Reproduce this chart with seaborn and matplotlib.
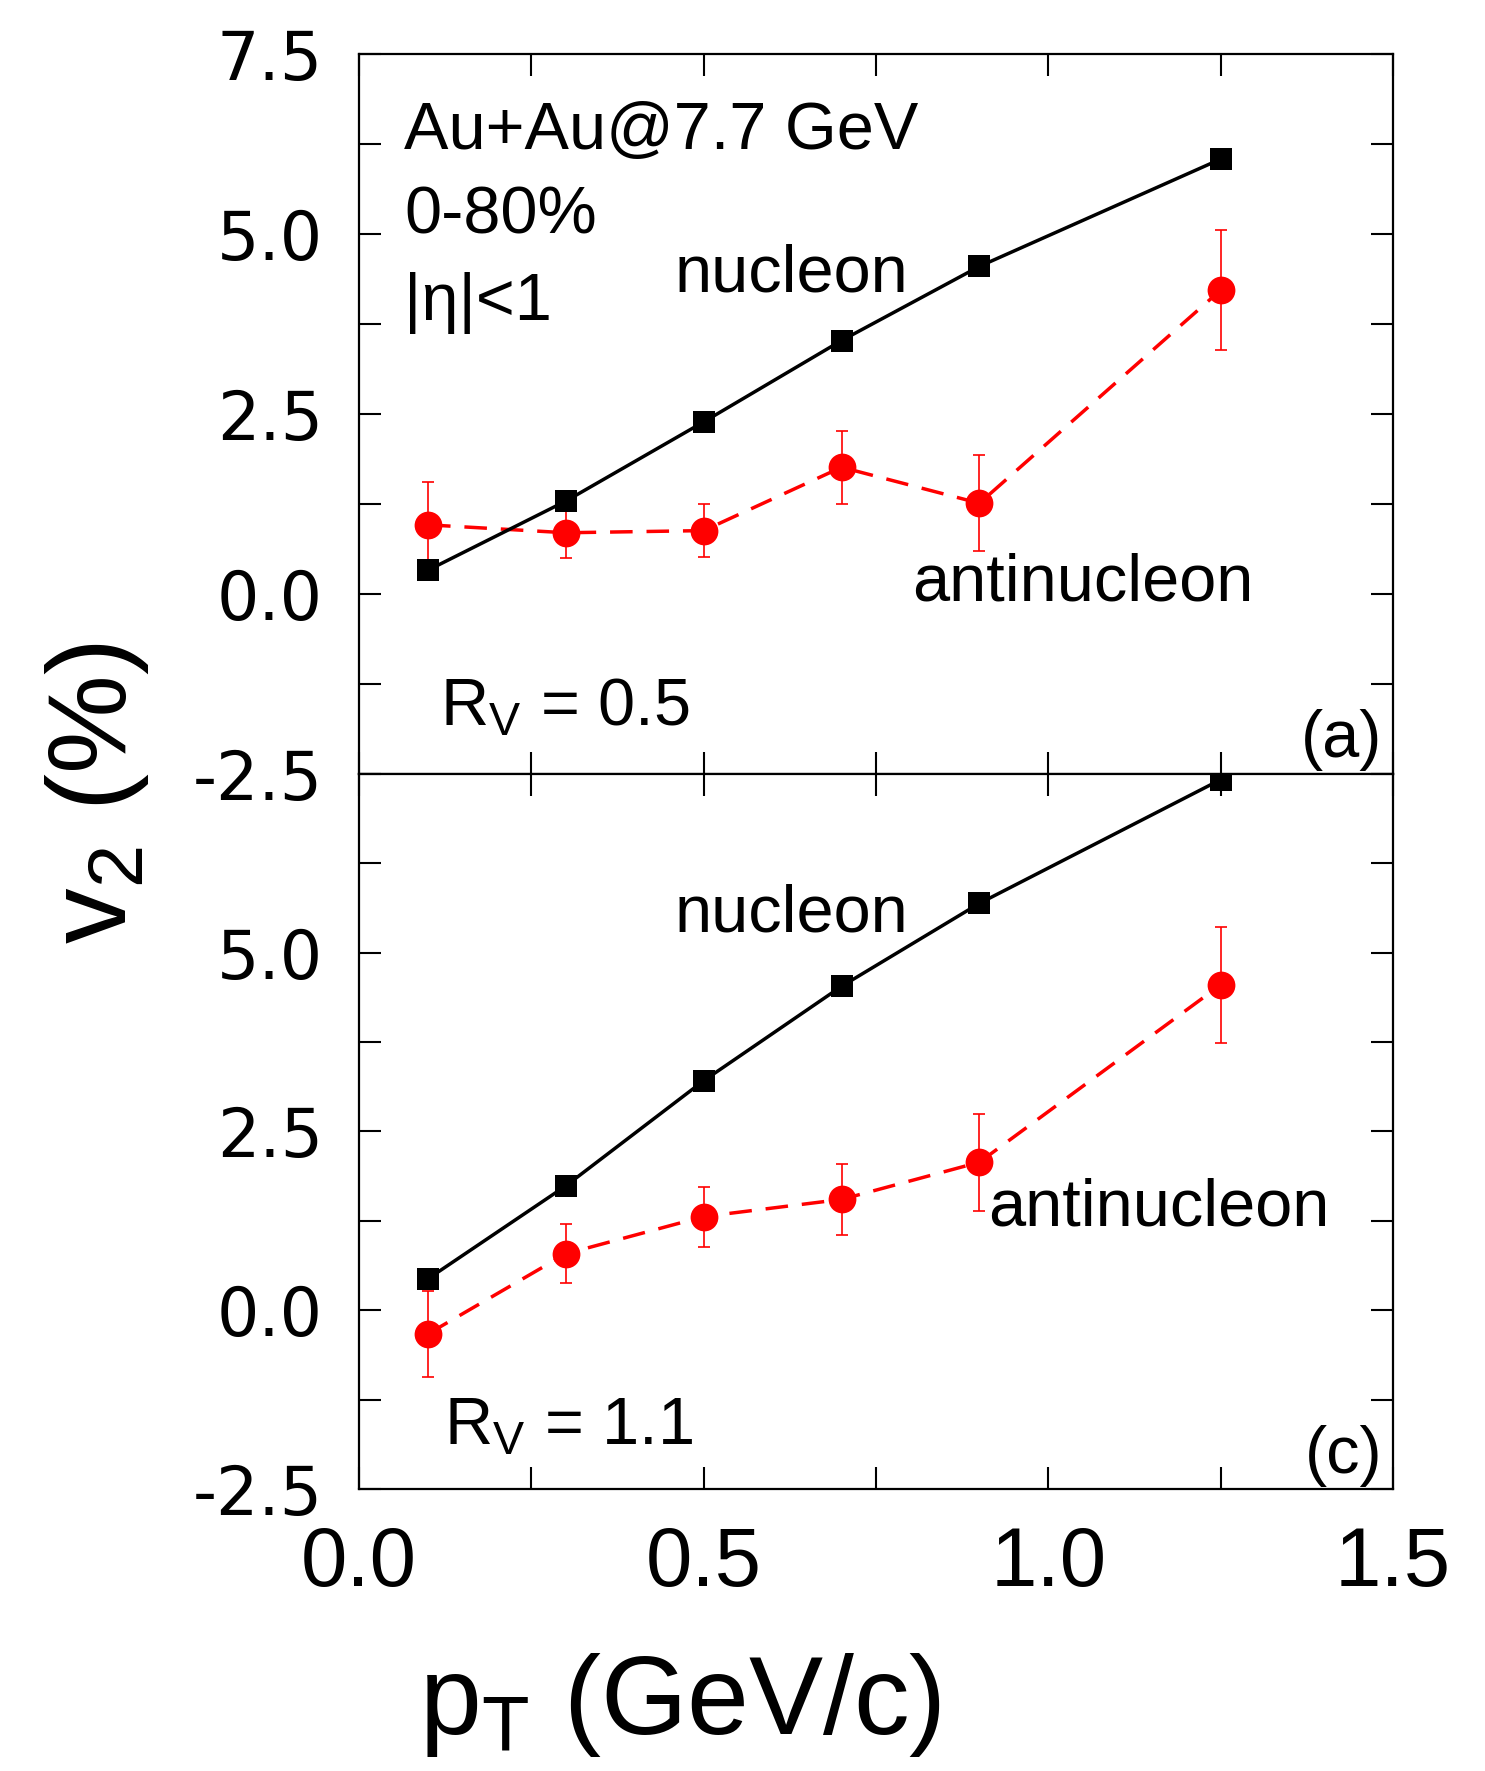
import matplotlib
matplotlib.use("Agg")
import matplotlib.pyplot as plt
from matplotlib.ticker import MultipleLocator
import pandas as pd
import seaborn as sns

# transverse momentum bins (GeV/c)
pt = [0.1, 0.3, 0.5, 0.7, 0.9, 1.25]

# panel (a): R_V = 0.5, v2 in percent
nuc_a = [0.33, 1.29, 2.39, 3.52, 4.55, 6.04]
anti_a = [0.96, 0.85, 0.88, 1.76, 1.26, 4.22]
anti_a_err = [0.60, 0.35, 0.37, 0.51, 0.67, 0.83]

# panel (c): R_V = 1.1, v2 in percent
nuc_c = [0.44, 1.74, 3.21, 4.53, 5.69, 7.42]
anti_c = [-0.33, 0.79, 1.31, 1.55, 2.07, 4.55]
anti_c_err = [0.60, 0.41, 0.42, 0.50, 0.68, 0.81]

y_ticks_a = [-2.5, 0.0, 2.5, 5.0, 7.5]
y_ticks_c = [-2.5, 0.0, 2.5, 5.0]
x_ticks = [0.0, 0.5, 1.0, 1.5]

sns.set_style("ticks")
plt.rcParams["font.family"] = ["Liberation Sans", "DejaVu Sans"]
plt.rcParams["mathtext.fontset"] = "custom"
plt.rcParams["mathtext.rm"] = "Liberation Sans"
plt.rcParams["mathtext.it"] = "Liberation Sans:italic"
plt.rcParams["mathtext.bf"] = "Liberation Sans:bold"
for key in ("text.color", "axes.labelcolor", "xtick.color", "ytick.color",
            "axes.edgecolor"):
    plt.rcParams[key] = "black"

fig = plt.figure(figsize=(14.85, 17.71), dpi=100)
left, width = 0.2418, 0.6962
ax_a = fig.add_axes([left, 0.563, width, 0.9695 - 0.563])
ax_c = fig.add_axes([left, 0.1592, width, 0.563 - 0.1592])

ANN = 48


def draw_panel(ax, nuc, anti, err, yticks):
    df = pd.DataFrame({"pt": pt, "nucleon": nuc, "anti": anti, "err": err})
    ax.errorbar(df["pt"], df["anti"], yerr=df["err"], fmt="none",
                ecolor="red", elinewidth=1.2, capsize=4, capthick=1.2, zorder=2)
    sns.lineplot(data=df, x="pt", y="anti", ax=ax, color="red", lw=2.5,
                 linestyle=(0, (6.5, 4.0)), marker="o", markersize=20,
                 markeredgewidth=0, legend=False, zorder=3)
    sns.lineplot(data=df, x="pt", y="nucleon", ax=ax, color="black", lw=2.5,
                 marker="s", markersize=16.5, markeredgewidth=0,
                 legend=False, zorder=4)
    ax.set_xlim(0.0, 1.5)
    ax.set_ylim(-2.5, 7.5)
    ax.set_xlabel("")
    ax.set_ylabel("")
    ax.set_xticks(x_ticks)
    ax.xaxis.set_minor_locator(MultipleLocator(0.25))
    ax.set_yticks(yticks)
    ax.set_yticklabels([f"{v:.1f}" for v in yticks], fontsize=48,
                       family="DejaVu Sans", color="black")
    ax.yaxis.set_minor_locator(MultipleLocator(1.25))
    ax.tick_params(which="both", direction="in", length=16, width=1.5,
                   top=True, right=True, colors="black")
    ax.tick_params(axis="y", pad=26)
    ax.tick_params(axis="x", pad=26)
    for sp in ax.spines.values():
        sp.set_linewidth(1.6)
        sp.set_color("black")
        sp.set_visible(True)


draw_panel(ax_a, nuc_a, anti_a, anti_a_err, y_ticks_a)
draw_panel(ax_c, nuc_c, anti_c, anti_c_err, y_ticks_c)

ax_a.tick_params(labelbottom=False)
ax_c.set_xticklabels([f"{v:.1f}" for v in x_ticks], fontsize=60, color="black")

# panel (a) annotations
ax_a.text(0.0435, 0.892, "Au+Au@7.7 GeV", transform=ax_a.transAxes,
          fontsize=ANN, ha="left", va="center", color="black")
ax_a.text(0.0435, 0.774, "0-80%", transform=ax_a.transAxes,
          fontsize=ANN, ha="left", va="center", color="black")
ax_a.text(0.0435, 0.654, "|η|<1", transform=ax_a.transAxes,
          fontsize=ANN, ha="left", va="center", color="black")
ax_a.text(0.305, 0.694, "nucleon", transform=ax_a.transAxes,
          fontsize=ANN, ha="left", va="center", color="black")
ax_a.text(0.535, 0.264, "antinucleon", transform=ax_a.transAxes,
          fontsize=ANN, ha="left", va="center", color="black")
ax_a.text(0.078, 0.067, r"R$_\mathregular{V}$ = 0.5", transform=ax_a.transAxes,
          fontsize=ANN, ha="left", va="baseline", color="black")
ax_a.text(0.990, 0.047, "(a)", transform=ax_a.transAxes,
          fontsize=ANN, ha="right", va="center", color="black")

# panel (c) annotations
ax_c.text(0.305, 0.803, "nucleon", transform=ax_c.transAxes,
          fontsize=ANN, ha="left", va="center", color="black")
ax_c.text(0.608, 0.393, "antinucleon", transform=ax_c.transAxes,
          fontsize=ANN, ha="left", va="center", color="black")
ax_c.text(0.082, 0.062, r"R$_\mathregular{V}$ = 1.1", transform=ax_c.transAxes,
          fontsize=ANN, ha="left", va="baseline", color="black")
ax_c.text(0.990, 0.046, "(c)", transform=ax_c.transAxes,
          fontsize=ANN, ha="right", va="center", color="black")

# shared axis titles
fig.text(0.065, 0.552, r"v$_\mathregular{2}$ (%)", rotation=90,
         fontsize=80, ha="center", va="center", color="black")
fig.text(0.458, 0.037, r"p$_\mathregular{T}$ (GeV/c)",
         fontsize=80, ha="center", va="center", color="black")

fig.savefig("out.png", dpi=100, facecolor="white")
